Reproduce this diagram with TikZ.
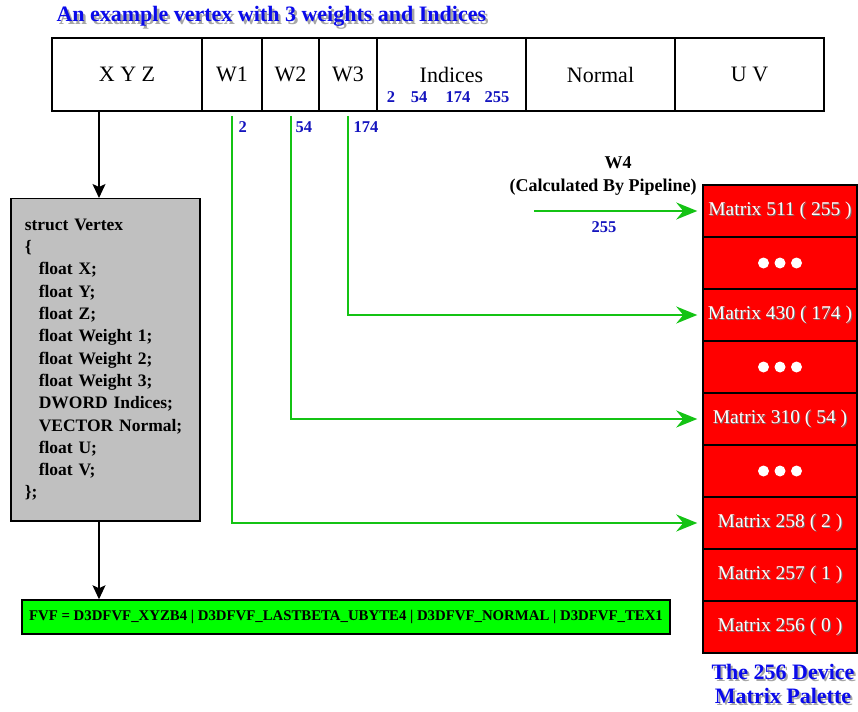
\documentclass[tikz,border=0pt]{standalone}
\usepackage{fontspec}
\setmainfont{Liberation Serif}
\usetikzlibrary{arrows.meta,calc}

\definecolor{palette}{RGB}{255,0,0}
\definecolor{wire}{RGB}{20,195,20}
\definecolor{fvfgreen}{RGB}{0,255,0}
\definecolor{structgray}{RGB}{192,192,192}
\definecolor{idxblue}{RGB}{20,20,190}
\definecolor{headblue}{RGB}{10,10,235}

% text with a drop shadow: offset, shadow colour, text
\newcommand{\dropshade}[3]{\rlap{\kern#1\raisebox{-#1}{\textcolor{#2}{#3}}}#3}

\begin{document}
\begin{tikzpicture}[x=1pt,y=-1pt,
  cell/.style={draw,line width=2pt,minimum height=73pt,inner sep=0pt,font=\fontsize{22}{26}\selectfont},
  slot/.style={draw,line width=1.5pt,fill=palette,minimum width=154pt,minimum height=52pt,inner sep=0pt,
    text=white,font=\fontsize{19.5}{22}\selectfont},
  idx/.style={text=idxblue,font=\bfseries\fontsize{16.5}{18}\selectfont},
  link/.style={draw=wire,line width=2pt,shorten >=5pt,-{Stealth[length=21pt,width=17pt,inset=7pt]}},
  down/.style={line width=1.5pt,-{Stealth[length=14pt,width=13pt,inset=3pt]}}]
  \useasboundingbox (0,0) rectangle (858,711);

  % heading
  \node[anchor=west,text=headblue,font=\bfseries\fontsize{22}{26}\selectfont] (title) at (53,18)
    {\dropshade{2.5pt}{black!35}{An example vertex with 3 weights and Indices}};

  % the vertex layout
  \node[cell,minimum width=150pt] (xyz) at (127,74.5) {X Y Z};
  \node[cell,minimum width=60pt] (wone) at (232,74.5) {W1};
  \node[cell,minimum width=57pt] (wtwo) at (290.5,74.5) {W2};
  \node[cell,minimum width=58pt] (wthree) at (348,74.5) {W3};
  \node[cell,minimum width=149pt] (indices) at (451.5,74.5) {Indices};
  \node[cell,minimum width=149pt] (normal) at (600.5,74.5) {Normal};
  \node[cell,minimum width=149pt] (uv) at (749.5,74.5) {U V};

  \foreach \x/\n in {391/2, 419/54, 458/174, 497/255}
    \node[idx] (ix\n) at (\x,97) {\n};

  \node[idx,anchor=west] (wonei) at (235,127) {2};
  \node[idx,anchor=west] (wtwoi) at (292,127) {54};
  \node[idx,anchor=west] (wthreei) at (350,127) {174};

  % struct and FVF
  \node[draw,line width=1.5pt,fill=structgray,anchor=north west,minimum width=189pt,minimum height=322pt,
    inner xsep=14pt,text width=161pt,align=left,font=\bfseries\fontsize{17.5}{22.3}\selectfont] (vertex) at (10,198)
    {struct Vertex\\
     \{\\
     \hspace*{14pt}float X;\\
     \hspace*{14pt}float Y;\\
     \hspace*{14pt}float Z;\\
     \hspace*{14pt}float Weight 1;\\
     \hspace*{14pt}float Weight 2;\\
     \hspace*{14pt}float Weight 3;\\
     \hspace*{14pt}DWORD Indices;\\
     \hspace*{14pt}VECTOR Normal;\\
     \hspace*{14pt}float U;\\
     \hspace*{14pt}float V;\\
     \};};

  \node[draw,line width=1.5pt,fill=fvfgreen,minimum width=648pt,minimum height=34pt,inner sep=0pt,
    font=\bfseries\fontsize{14.8}{16}\selectfont] (fvf) at (346,617)
    {FVF = D3DFVF\_XYZB4 | D3DFVF\_LASTBETA\_UBYTE4 | D3DFVF\_NORMAL | D3DFVF\_TEX1};

  \draw[down] (xyz.south -| 99,0) -- (vertex.north -| 99,0);
  \draw[down] (vertex.south -| 99,0) -- (fvf.north -| 99,0);

  % matrix palette
  \node[slot] (m511) at (780,211) {\dropshade{1pt}{black!55}{Matrix 511 ( 255 )}};
  \node[slot] (dotsa) at (780,263) {};
  \node[slot] (m430) at (780,315) {\dropshade{1pt}{black!55}{Matrix 430 ( 174 )}};
  \node[slot] (dotsb) at (780,367) {};
  \node[slot] (m310) at (780,419) {\dropshade{1pt}{black!55}{Matrix 310 ( 54 )}};
  \node[slot] (dotsc) at (780,471) {};
  \node[slot] (m258) at (780,523) {\dropshade{1pt}{black!55}{Matrix 258 ( 2 )}};
  \node[slot] (m257) at (780,575) {\dropshade{1pt}{black!55}{Matrix 257 ( 1 )}};
  \node[slot] (m256) at (780,627) {\dropshade{1pt}{black!55}{Matrix 256 ( 0 )}};

  \foreach \d in {dotsa,dotsb,dotsc}
    \foreach \k in {-1,0,1}
      \fill[white] ([xshift=\k*16.5pt]\d.center) circle (5.5pt);

  \node[align=center,text=headblue,font=\bfseries\fontsize{22}{24}\selectfont] (caption) at (783,685)
    {\dropshade{2pt}{black!35}{The 256 Device}\\ \dropshade{2pt}{black!35}{Matrix Palette}};

  % weights into the palette
  \draw[link] ([yshift=-4pt]wone.south) |- (m258.west);
  \draw[link] ([yshift=-4pt]wtwo.south) |- (m310.west);
  \draw[link] ([yshift=-4pt]wthree.south) |- (m430.west);

  \coordinate (wfour) at (534,211);
  \draw[link] (wfour) -- (m511.west);
  \node[font=\bfseries\fontsize{18}{20}\selectfont] (wfourname) at (618,163) {W4};
  \node[font=\bfseries\fontsize{18}{20}\selectfont] (wfournote) at (603,187) {(Calculated By Pipeline)};
  \node[idx] (wfouri) at (604,227) {255};
\end{tikzpicture}
\end{document}
